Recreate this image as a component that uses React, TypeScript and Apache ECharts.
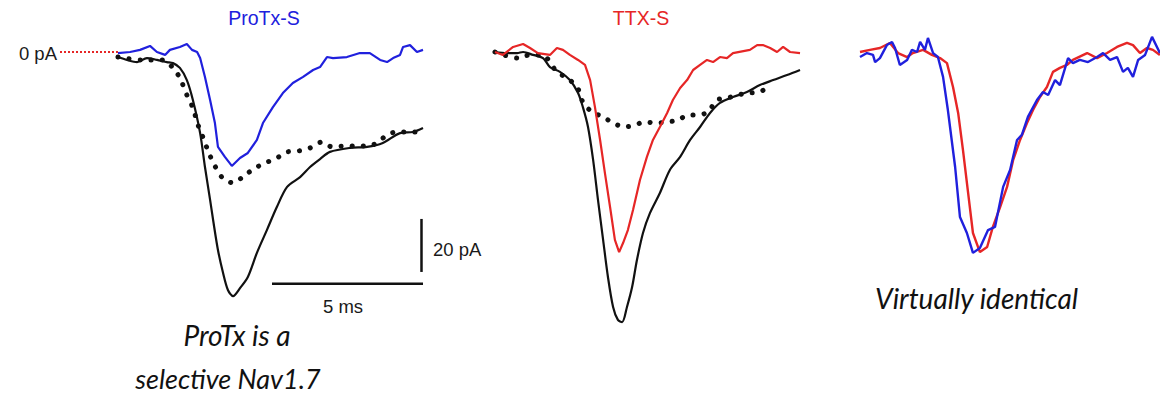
import React, { useEffect, useRef } from "react";
import * as echarts from "echarts";

// time (ms), current (pA)
const protxBlue: [number, number][] = [
  [0, -0.4], [0.4, 0], [0.73, 0.8], [1.06, 2.3], [1.29, 0], [1.56, -1.1], [1.72, 0.8], [2.05, 1.9],
  [2.28, 3.0], [2.45, 0.8], [2.62, 0], [2.72, -2.3], [2.88, -9.4], [3.05, -18.1], [3.21, -26.8],
  [3.31, -35.8], [3.54, -39.6], [3.77, -43.0], [4.04, -40.0], [4.3, -38.1], [4.6, -33.2], [4.8, -26.8],
  [5.13, -20.8], [5.46, -15.5], [5.79, -11.7], [6.13, -9.4], [6.46, -6.8], [6.69, -5.7], [6.92, -1.9],
  [7.12, -2.3], [7.58, -1.9], [8.01, -0.4], [8.34, -0.4], [8.68, -3.0], [8.91, -3.8], [9.11, -2.3],
  [9.34, -1.1], [9.44, 1.9], [9.67, 2.6], [9.9, 0], [10.1, 0.8],
];
const protxBlack: [number, number][] = [
  [0, -1.9], [0.3, -3.0], [0.63, -3.8], [0.96, -2.3], [1.29, -3.0], [1.62, -3.8], [1.82, -4.2],
  [2.05, -6.0], [2.28, -10.6], [2.48, -18.1], [2.72, -30.6], [2.88, -43.4], [3.05, -55.8], [3.15, -63.4],
  [3.31, -74.7], [3.48, -83.4], [3.64, -89.8], [3.81, -92.1], [4.04, -89.1], [4.3, -84.9], [4.6, -75.8],
  [4.93, -67.2], [5.26, -58.5], [5.6, -50.9], [6.03, -47.2], [6.36, -43.4], [6.69, -40.4], [7.02, -37.7],
  [7.68, -36.2], [8.25, -35.8], [8.77, -34.3], [9.34, -30.6], [9.77, -30.2], [10.1, -28.7],
];
const protxDotted: [number, number][] = [
  [0, -1.9], [0.79, -3.0], [1.49, -3.0], [1.82, -6.0], [2.05, -9.8], [2.28, -16.2], [2.48, -21.1],
  [2.65, -27.5], [2.81, -32.1], [3.01, -38.1], [3.21, -43.0], [3.44, -47.2], [3.81, -49.4], [4.21, -46.4],
  [4.54, -43.8], [4.87, -41.9], [5.26, -40.0], [5.6, -37.7], [5.96, -37.4], [6.36, -36.2], [6.75, -34.0],
  [7.09, -35.8], [7.45, -35.5], [7.85, -35.5], [8.25, -35.5], [8.58, -34.3], [8.91, -31.3], [9.24, -30.2],
  [9.9, -30.2],
];
const ttxRed: [number, number][] = [
  [0, 0], [0.26, -1.1], [0.6, 1.9], [0.93, 3.0], [1.16, 1.5], [1.42, -0.4], [1.82, -1.1], [2.05, 1.5],
  [2.25, 0.8], [2.48, -1.1], [2.75, -3.0], [2.98, -4.9], [3.15, -10.6], [3.31, -20.8], [3.48, -33.2],
  [3.64, -45.7], [3.81, -58.5], [3.97, -70.9], [4.11, -75.5], [4.24, -72.1], [4.4, -67.2], [4.57, -59.6],
  [4.8, -48.3], [5.03, -39.6], [5.23, -33.2], [5.46, -28.3], [5.7, -23.0], [5.89, -18.1], [6.13, -13.6],
  [6.36, -10.6], [6.56, -6.8], [6.79, -4.9], [7.02, -3.0], [7.22, -3.8], [7.45, -1.9], [7.68, -2.3],
  [7.88, -0.4], [8.44, 0.8], [8.68, 2.6], [8.87, 2.6], [9.11, 1.5], [9.34, 0], [9.54, 1.9], [9.77, 0],
  [10.1, -0.4],
];
const ttxBlack: [number, number][] = [
  [0, 0], [0.4, -0.4], [0.73, -0.4], [0.93, 0], [1.26, -1.1], [1.59, -2.3], [1.82, -5.7], [2.15, -7.5],
  [2.48, -10.6], [2.75, -15.5], [2.91, -20.8], [3.08, -28.3], [3.25, -40.8], [3.41, -55.8], [3.58, -70.9],
  [3.74, -84.9], [3.91, -96.2], [4.07, -101.1], [4.21, -101.9], [4.37, -96.2], [4.54, -88.7], [4.7, -78.5],
  [4.9, -68.3], [5.13, -60.8], [5.46, -53.2], [5.79, -44.5], [6.13, -39.6], [6.46, -33.2], [6.79, -28.3],
  [7.12, -23.0], [7.45, -19.2], [7.88, -17.0], [8.34, -15.1], [8.77, -12.5], [9.21, -10.6], [9.67, -8.7],
  [10.1, -6.8],
];
const ttxDotted: [number, number][] = [
  [0, 0], [0.76, -2.3], [1.16, -1.1], [1.56, -1.1], [2.05, -7.5], [2.38, -9.8], [2.72, -13.2],
  [2.91, -18.9], [3.21, -22.6], [3.58, -24.5], [3.91, -26.8], [4.3, -28.3], [4.64, -27.5], [4.97, -26.4],
  [5.3, -26.8], [5.7, -26.4], [6.06, -25.7], [6.39, -23.8], [6.69, -23.8], [7.05, -22.6], [7.35, -18.1],
  [7.68, -17.4], [8.05, -16.2], [8.38, -15.5], [8.77, -15.1], [9.11, -12.5],
];
const identRed: [number, number][] = [
  [0, 0], [0.33, 0.8], [0.66, 1.5], [0.99, 3.4], [1.26, -0.4], [1.56, -1.9], [1.75, -0.4], [2.09, 0.8],
  [2.38, -1.1], [2.65, -2.3], [2.88, -4.2], [3.08, -13.2], [3.25, -23.0], [3.41, -37.0], [3.58, -53.2],
  [3.74, -68.3], [3.97, -75.5], [4.21, -73.6], [4.4, -66.0], [4.64, -58.5], [4.87, -50.9], [5.07, -40.8],
  [5.3, -33.2], [5.53, -26.8], [5.73, -21.9], [5.96, -17.0], [6.19, -13.2], [6.39, -7.5], [6.62, -6.0],
  [6.85, -4.9], [7.05, -3.0], [7.52, -0.4], [7.85, -2.3], [8.18, -0.4], [8.51, 1.9], [8.84, 3.4],
  [9.04, 2.6], [9.27, -0.4], [9.5, 1.5], [9.7, 0.8], [9.93, -1.1],
];
const identBlue: [number, number][] = [
  [0, -1.9], [0.23, -0.4], [0.43, -1.1], [0.5, -3.8], [0.66, -2.3], [0.89, 2.6], [1.06, 3.8], [1.16, 1.5],
  [1.32, -4.9], [1.56, -3.0], [1.72, 0.8], [1.89, 0], [1.99, 3.8], [2.15, 0.8], [2.25, 5.3], [2.42, -0.4],
  [2.58, -1.9], [2.75, -9.4], [2.91, -21.9], [3.15, -43.4], [3.31, -62.3], [3.54, -68.3], [3.74, -75.8],
  [3.97, -74.0], [4.24, -67.2], [4.47, -66.0], [4.74, -50.9], [4.97, -44.5], [5.2, -33.2], [5.36, -31.3],
  [5.56, -24.5], [5.86, -18.1], [6.06, -15.1], [6.23, -16.2], [6.46, -10.6], [6.62, -12.5], [6.89, -2.3],
  [7.05, -4.2], [7.28, -3.0], [7.55, -3.8], [7.85, -1.9], [8.05, -0.4], [8.28, -3.0], [8.51, -1.9],
  [8.71, -7.5], [8.87, -6.0], [9.04, -9.4], [9.21, -3.0], [9.44, -1.1], [9.67, 5.7], [9.93, -0.4],
];
const zeroLine: [number, number][] = [[-1.92, 0], [0, 0]];
const scaleBarMs = 5;
const scaleBarPA = 20;

const panelTitles = ["ProTx-S", "TTX-S"];
const captions = ["ProTx is a", "selective Nav1.7", "Virtually identical"];
const axisLabels = ["0 pA", "5 ms", "20 pA"];

const BLUE = "#2020dd";
const RED = "#e62626";
const BLACK = "#111111";

export default function App() {
  const ref = useRef<HTMLDivElement>(null);
  useEffect(() => {
    if (!ref.current) return;
    const chart = echarts.init(ref.current, undefined, { renderer: "svg" });
    const yMin = -128.68;
    const yMax = 19.62;
    const pxPerMs = 30.2;
    const mkGrid = (left: number, xmin: number, xmax: number) => ({
      left,
      top: 0,
      width: (xmax - xmin) * pxPerMs,
      height: 393,
      show: false,
    });
    const g = [mkGrid(60, -1.92, 10.1), mkGrid(495, 0, 10.1), mkGrid(860, 0, 9.93)];
    const xr = [[-1.92, 10.1], [0, 10.1], [0, 9.93]];
    const line = (data: [number, number][], color: string, idx: number, width = 2, smooth: number | boolean = false) => ({
      type: "line",
      xAxisIndex: idx,
      yAxisIndex: idx,
      data,
      showSymbol: false,
      smooth,
      lineStyle: { color, width },
      silent: true,
    });
    const dotted = (data: [number, number][], idx: number) => ({
      type: "line",
      xAxisIndex: idx,
      yAxisIndex: idx,
      data,
      showSymbol: false,
      smooth: 0.3,
      lineStyle: { color: BLACK, width: 5, type: [0.1, 11], cap: "round" },
      silent: true,
    });
    const hBarY = -87.5;
    const hBarEnd = 10.1;
    const vBarX = 10.05;
    const vBarTop = -63;
    const textFont = "'Liberation Sans', Arial, sans-serif";
    const capFont = "Lato, 'Open Sans', sans-serif";
    const option: any = {
      animation: false,
      backgroundColor: "#ffffff",
      grid: g,
      xAxis: xr.map((r, i) => ({ type: "value", gridIndex: i, min: r[0], max: r[1], show: false })),
      yAxis: xr.map((_, i) => ({ type: "value", gridIndex: i, min: yMin, max: yMax, show: false })),
      series: [
        {
          type: "line",
          xAxisIndex: 0,
          yAxisIndex: 0,
          data: zeroLine,
          showSymbol: false,
          lineStyle: { color: RED, width: 2, type: [2, 2] },
          silent: true,
        },
        dotted(protxDotted, 0),
        line(protxBlack, BLACK, 0, 2.2, 0.3),
        line(protxBlue, BLUE, 0, 2.2),
        line(
          [[hBarEnd - scaleBarMs, hBarY], [hBarEnd, hBarY]],
          BLACK, 0, 2.5
        ),
        line(
          [[vBarX, vBarTop], [vBarX, vBarTop - scaleBarPA]],
          BLACK, 0, 2.5
        ),
        dotted(ttxDotted, 1),
        line(ttxBlack, BLACK, 1, 2.2, 0.3),
        line(ttxRed, RED, 1, 2.2),
        line(identRed, RED, 2, 2.4),
        line(identBlue, BLUE, 2, 2.4),
      ],
      graphic: [
        { type: "text", x: 264, y: 18, style: { text: panelTitles[0], fill: BLUE, font: `19.5px ${textFont}`, align: "center", verticalAlign: "middle" } },
        { type: "text", x: 641, y: 18, style: { text: panelTitles[1], fill: RED, font: `19.5px ${textFont}`, align: "center", verticalAlign: "middle" } },
        { type: "text", x: 57, y: 53, style: { text: axisLabels[0], fill: "#1a1a1a", font: `18.5px ${textFont}`, align: "right", verticalAlign: "middle" } },
        { type: "text", x: 343, y: 306, style: { text: axisLabels[1], fill: "#1a1a1a", font: `18.5px ${textFont}`, align: "center", verticalAlign: "middle" } },
        { type: "text", x: 433, y: 249, style: { text: axisLabels[2], fill: "#1a1a1a", font: `18.5px ${textFont}`, align: "left", verticalAlign: "middle" } },
        { type: "text", x: 237, y: 335, style: { text: captions[0], fill: "#111", font: `italic 28px ${capFont}`, align: "center", verticalAlign: "middle" } },
        { type: "text", x: 228, y: 378, style: { text: captions[1], fill: "#111", font: `italic 27px ${capFont}`, align: "center", verticalAlign: "middle" } },
        { type: "text", x: 875, y: 298, style: { text: captions[2], fill: "#111", font: `italic 28px ${capFont}`, align: "left", verticalAlign: "middle" } },
      ],
    };
    chart.setOption(option);
    return () => chart.dispose();
  }, []);
  return (
    <div
      ref={ref}
      style={{ position: "absolute", left: 0, top: 0, width: 1160, height: 393, background: "#fff" }}
    />
  );
}
